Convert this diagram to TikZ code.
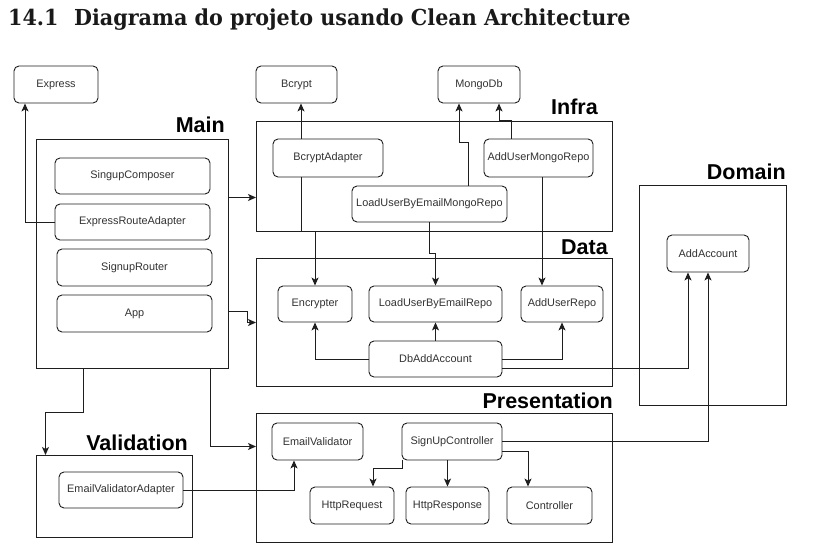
\documentclass[tikz,border=0pt]{standalone}
\usepackage{fontspec}
\setmainfont{Liberation Sans}
\newfontfamily\titlefont[FakeStretch=0.94]{DejaVu Serif}
\usetikzlibrary{arrows.meta}
\definecolor{archink}{RGB}{30,30,30}
\definecolor{archtext}{RGB}{51,51,51}

\begin{document}
\begin{tikzpicture}[x=1pt,y=-1pt,
  comp/.style={draw=archink,rounded corners=5pt,line width=0.9pt,align=center,inner sep=0pt,
    minimum height=36pt,text=archtext,font=\fontsize{10.9}{13}\selectfont},
  layer/.style={draw=archink,line width=1pt,anchor=north west,inner sep=0pt},
  lbl/.style={anchor=base east,inner sep=0pt,font=\fontsize{21.5}{26}\selectfont\bfseries},
  ttl/.style={anchor=base west,inner sep=0pt,text=black!90,font=\titlefont\bfseries\fontsize{22}{26}\selectfont},
  arr/.style={-{Stealth[length=8pt,width=7pt,inset=2pt]},line width=0.9pt,draw=archink}
]
\useasboundingbox[fill=white] (0,0) rectangle (817,545);
\node[ttl] (secnum) at (8,26) {14.1};
\node[ttl] (title) at (74,26) {Diagrama do projeto usando Clean Architecture};

\node[layer,minimum width=192pt,minimum height=229pt] (main) at (36,139) {};
\node[layer,minimum width=356pt,minimum height=110pt] (infra) at (256,121) {};
\node[layer,minimum width=356pt,minimum height=128pt] (data) at (256,258) {};
\node[layer,minimum width=147pt,minimum height=220pt] (domain) at (639,185) {};
\node[layer,minimum width=356pt,minimum height=129pt] (pres) at (256,413) {};
\node[layer,minimum width=156pt,minimum height=82pt] (valid) at (36,455) {};
\node[lbl] (mainlbl) at (225,133) {Main};
\node[lbl] (infralbl) at (598,115) {Infra};
\node[lbl] (datalbl) at (608,255) {Data};
\node[lbl] (domainlbl) at (786,180) {Domain};
\node[lbl] (preslbl) at (613,408) {Presentation};
\node[lbl] (validlbl) at (188,450) {Validation};

\node[comp,minimum width=84pt,minimum height=37pt] (express) at (56,84.5) {Express};
\node[comp,minimum width=81pt,minimum height=37pt] (bcrypt) at (296.5,84.5) {Bcrypt};
\node[comp,minimum width=82pt,minimum height=37pt] (mongo) at (479,84.5) {MongoDb};

\node[comp,minimum width=155pt] (composer) at (132.5,176) {SingupComposer};
\node[comp,minimum width=155pt] (era) at (132.5,222) {ExpressRouteAdapter};
\node[comp,minimum width=155pt,minimum height=37pt] (router) at (134.5,267.5) {SignupRouter};
\node[comp,minimum width=155pt,minimum height=37pt] (app) at (134.5,313.5) {App};

\node[comp,minimum width=110pt,minimum height=38pt] (bcad) at (328,158) {BcryptAdapter};
\node[comp,minimum width=109pt,minimum height=38pt] (aumongo) at (538.5,158) {AddUserMongoRepo};
\node[comp,minimum width=155pt] (lmongo) at (429.5,204) {LoadUserByEmailMongoRepo};

\node[comp,minimum width=74pt] (encr) at (315,304) {Encrypter};
\node[comp,minimum width=133pt] (lrepo) at (435.5,304) {LoadUserByEmailRepo};
\node[comp,minimum width=82pt] (aurepo) at (562,304) {AddUserRepo};
\node[comp,minimum width=133pt] (dbadd) at (435.5,359) {DbAddAccount};

\node[comp,minimum width=82pt,minimum height=37pt] (addacc) at (708,253.5) {AddAccount};

\node[comp,minimum width=91pt,minimum height=37pt] (ev) at (317.5,441.5) {EmailValidator};
\node[comp,minimum width=100pt,minimum height=37pt] (suc) at (452,441.5) {SignUpController};
\node[comp,minimum width=84pt,minimum height=37pt] (hreq) at (352,505.5) {HttpRequest};
\node[comp,minimum width=83pt,minimum height=37pt] (hresp) at (447.5,505.5) {HttpResponse};
\node[comp,minimum width=85pt,minimum height=37pt] (ctrl) at (549.5,505.5) {Controller};

\node[comp,minimum width=124pt] (eva) at (121,490) {EmailValidatorAdapter};

\draw[arr] (era.west) -| ([xshift=-31pt]express.south);
\draw[arr] ([yshift=56.5pt]main.east) -- ([yshift=56.5pt]main.east -| infra.west);
\draw[arr] ([yshift=-57.5pt]main.east) -- ++(18,0) |- (data.west);
\draw[arr] ([xshift=78pt]main.south) |- ([yshift=31.5pt]pres.west);
\draw[arr] ([xshift=-49pt]main.south) -- ++(0,43) -| ([xshift=-69pt]valid.north);

\draw[arr] ([xshift=-27pt]bcad.north) -- ([xshift=-27pt]bcad.north |- bcrypt.south);
\draw[arr] ([xshift=38.5pt]lmongo.north) -- ++(0,-43) -| ([xshift=-20pt]mongo.south);
\draw[arr] ([xshift=-27.5pt]aumongo.north) -- ++(0,-18) -| ([xshift=20pt]mongo.south);

\draw[arr] ([xshift=-27pt]bcad.south) -- ++(0,54) -| (encr.north);
\draw[arr] (lmongo.south) -- ++(0,31) -| (lrepo.north);
\draw[arr] ([xshift=3.5pt]aumongo.south) -- ([xshift=3.5pt]aumongo.south |- aurepo.north);

\draw[arr] (dbadd.west) -| (encr.south);
\draw[arr] (dbadd.north) -- (lrepo.south);
\draw[arr] (dbadd.east) -| (aurepo.south);
\draw[arr] ([yshift=-9pt]dbadd.east) -| ([xshift=-20pt]addacc.south);

\draw[arr] (suc.east) -| (addacc.south);
\draw[arr] ([yshift=-9.5pt]suc.east) -| ([xshift=-21.5pt]ctrl.north);
\draw[arr] (hresp.north |- suc.south) -- (hresp.north);
\draw[arr] ([xshift=1pt]suc.south west) -- ++(0,8) -| ([xshift=21pt]hreq.north);
\draw[arr] (eva.east) -| ([xshift=-23.5pt]ev.south);
\end{tikzpicture}
\end{document}
